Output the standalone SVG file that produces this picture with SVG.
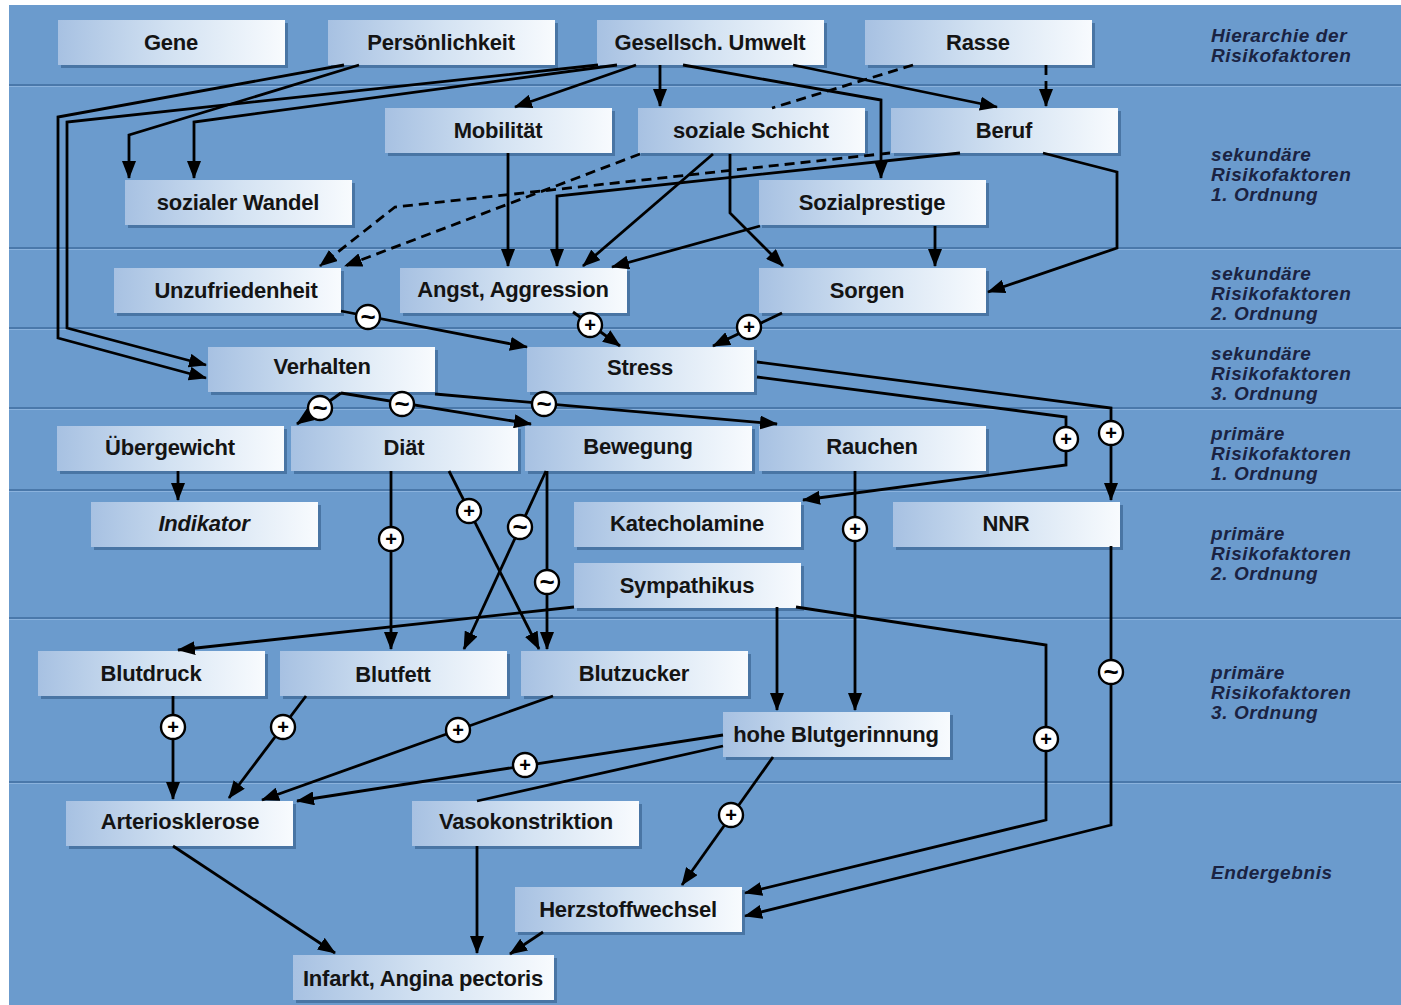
<svg xmlns="http://www.w3.org/2000/svg" width="1401" height="1005" viewBox="0 0 1401 1005">
<defs>
<linearGradient id="g" x1="0" y1="0" x2="1" y2="0">
<stop offset="0" stop-color="#a7c1e2"/>
<stop offset="0.5" stop-color="#d3e2f2"/>
<stop offset="1" stop-color="#f8fbfe"/>
</linearGradient>
<marker id="ah" markerUnits="userSpaceOnUse" markerWidth="18" markerHeight="14" refX="17" refY="7" orient="auto" viewBox="0 0 18 14">
<path d="M0,0 L18,7 L0,14 z" fill="#000"/>
</marker>
<style>
.bg{fill:#6b9bcd}
.bl{fill:#4a78aa}
.bh{fill:#8ab2dd}
.sh{fill:#2d5584;opacity:.55}
.box{fill:url(#g)}
.t{font-family:"Liberation Sans",Arial,sans-serif;font-weight:bold;font-size:22px;fill:#141414;text-anchor:middle;letter-spacing:-0.2px}
.it{font-style:italic}
.side{font-family:"Liberation Sans",Arial,sans-serif;font-weight:bold;font-style:italic;font-size:19px;letter-spacing:0.6px;fill:#1a2342}
.c{fill:none;stroke:#000;stroke-width:2.8;stroke-linejoin:miter}
.a{marker-end:url(#ah)}
.d{stroke-dasharray:10 6}
.lc{fill:#fff;stroke:#000;stroke-width:2.4}
.lt{font-family:"Liberation Sans",Arial,sans-serif;font-weight:bold;font-size:20px;fill:#000;text-anchor:middle}
.lw{font-family:"Liberation Sans",Arial,sans-serif;font-weight:bold;font-size:26px;fill:#000;text-anchor:middle}
</style>
</defs>
<rect x="0" y="0" width="1401" height="1005" fill="#ffffff"/>
<rect class="bg" x="9" y="5" width="1392" height="1000"/>
<g id="bands">
<rect class="bl" x="9" y="84" width="1392" height="2"/><rect class="bh" x="9" y="86" width="1392" height="1"/>
<rect class="bl" x="9" y="247" width="1392" height="2"/><rect class="bh" x="9" y="249" width="1392" height="1"/>
<rect class="bl" x="9" y="327" width="1392" height="2"/><rect class="bh" x="9" y="329" width="1392" height="1"/>
<rect class="bl" x="9" y="407" width="1392" height="2"/><rect class="bh" x="9" y="409" width="1392" height="1"/>
<rect class="bl" x="9" y="489" width="1392" height="2"/><rect class="bh" x="9" y="491" width="1392" height="1"/>
<rect class="bl" x="9" y="617" width="1392" height="2"/><rect class="bh" x="9" y="619" width="1392" height="1"/>
<rect class="bl" x="9" y="781" width="1392" height="2"/><rect class="bh" x="9" y="783" width="1392" height="1"/>
</g>
<g id="side-labels">
<text class="side" x="1211" y="42">Hierarchie der</text>
<text class="side" x="1211" y="62">Risikofaktoren</text>
<text class="side" x="1211" y="161">sekundäre</text>
<text class="side" x="1211" y="181">Risikofaktoren</text>
<text class="side" x="1211" y="201">1. Ordnung</text>
<text class="side" x="1211" y="280">sekundäre</text>
<text class="side" x="1211" y="300">Risikofaktoren</text>
<text class="side" x="1211" y="320">2. Ordnung</text>
<text class="side" x="1211" y="360">sekundäre</text>
<text class="side" x="1211" y="380">Risikofaktoren</text>
<text class="side" x="1211" y="400">3. Ordnung</text>
<text class="side" x="1211" y="440">primäre</text>
<text class="side" x="1211" y="460">Risikofaktoren</text>
<text class="side" x="1211" y="480">1. Ordnung</text>
<text class="side" x="1211" y="540">primäre</text>
<text class="side" x="1211" y="560">Risikofaktoren</text>
<text class="side" x="1211" y="580">2. Ordnung</text>
<text class="side" x="1211" y="679">primäre</text>
<text class="side" x="1211" y="699">Risikofaktoren</text>
<text class="side" x="1211" y="719">3. Ordnung</text>
<text class="side" x="1211" y="879">Endergebnis</text>
</g>
<g id="nodes">
<g id="n-gene"><rect class="sh" x="61" y="23" width="227" height="45"/><rect class="box" x="58" y="20" width="227" height="45"/><text class="t" x="171" y="50">Gene</text></g>
<g id="n-persoenlichkeit"><rect class="sh" x="331" y="23" width="227" height="45"/><rect class="box" x="328" y="20" width="227" height="45"/><text class="t" x="441" y="50">Persönlichkeit</text></g>
<g id="n-umwelt"><rect class="sh" x="600" y="23" width="227" height="45"/><rect class="box" x="597" y="20" width="227" height="45"/><text class="t" x="710" y="50">Gesellsch. Umwelt</text></g>
<g id="n-rasse"><rect class="sh" x="868" y="23" width="227" height="45"/><rect class="box" x="865" y="20" width="227" height="45"/><text class="t" x="978" y="50">Rasse</text></g>
<g id="n-mobilitaet"><rect class="sh" x="388" y="111" width="227" height="45"/><rect class="box" x="385" y="108" width="227" height="45"/><text class="t" x="498" y="138">Mobilität</text></g>
<g id="n-schicht"><rect class="sh" x="641" y="111" width="227" height="45"/><rect class="box" x="638" y="108" width="227" height="45"/><text class="t" x="751" y="138">soziale Schicht</text></g>
<g id="n-beruf"><rect class="sh" x="894" y="111" width="227" height="45"/><rect class="box" x="891" y="108" width="227" height="45"/><text class="t" x="1004" y="138">Beruf</text></g>
<g id="n-wandel"><rect class="sh" x="128" y="183" width="227" height="45"/><rect class="box" x="125" y="180" width="227" height="45"/><text class="t" x="238" y="210">sozialer Wandel</text></g>
<g id="n-prestige"><rect class="sh" x="762" y="183" width="227" height="45"/><rect class="box" x="759" y="180" width="227" height="45"/><text class="t" x="872" y="210">Sozialprestige</text></g>
<g id="n-unzufriedenheit"><rect class="sh" x="117" y="271" width="227" height="45"/><rect class="box" x="114" y="268" width="227" height="45"/><text class="t" x="236" y="298">Unzufriedenheit</text></g>
<g id="n-angst"><rect class="sh" x="403" y="271" width="227" height="45"/><rect class="box" x="400" y="268" width="227" height="45"/><text class="t" x="513" y="297">Angst, Aggression</text></g>
<g id="n-sorgen"><rect class="sh" x="762" y="271" width="227" height="45"/><rect class="box" x="759" y="268" width="227" height="45"/><text class="t" x="867" y="298">Sorgen</text></g>
<g id="n-verhalten"><rect class="sh" x="211" y="350" width="227" height="45"/><rect class="box" x="208" y="347" width="227" height="45"/><text class="t" x="322" y="374">Verhalten</text></g>
<g id="n-stress"><rect class="sh" x="530" y="350" width="227" height="45"/><rect class="box" x="527" y="347" width="227" height="45"/><text class="t" x="640" y="375">Stress</text></g>
<g id="n-uebergewicht"><rect class="sh" x="60" y="429" width="227" height="45"/><rect class="box" x="57" y="426" width="227" height="45"/><text class="t" x="170" y="455">Übergewicht</text></g>
<g id="n-diaet"><rect class="sh" x="294" y="429" width="227" height="45"/><rect class="box" x="291" y="426" width="227" height="45"/><text class="t" x="404" y="455">Diät</text></g>
<g id="n-bewegung"><rect class="sh" x="528" y="429" width="227" height="45"/><rect class="box" x="525" y="426" width="227" height="45"/><text class="t" x="638" y="454">Bewegung</text></g>
<g id="n-rauchen"><rect class="sh" x="762" y="429" width="227" height="45"/><rect class="box" x="759" y="426" width="227" height="45"/><text class="t" x="872" y="454">Rauchen</text></g>
<g id="n-indikator"><rect class="sh" x="94" y="505" width="227" height="45"/><rect class="box" x="91" y="502" width="227" height="45"/><text class="t it" x="204" y="531">Indikator</text></g>
<g id="n-katecholamine"><rect class="sh" x="577" y="505" width="227" height="45"/><rect class="box" x="574" y="502" width="227" height="45"/><text class="t" x="687" y="531">Katecholamine</text></g>
<g id="n-nnr"><rect class="sh" x="896" y="505" width="227" height="45"/><rect class="box" x="893" y="502" width="227" height="45"/><text class="t" x="1006" y="531">NNR</text></g>
<g id="n-sympathikus"><rect class="sh" x="577" y="566" width="227" height="45"/><rect class="box" x="574" y="563" width="227" height="45"/><text class="t" x="687" y="593">Sympathikus</text></g>
<g id="n-blutdruck"><rect class="sh" x="41" y="654" width="227" height="45"/><rect class="box" x="38" y="651" width="227" height="45"/><text class="t" x="151" y="681">Blutdruck</text></g>
<g id="n-blutfett"><rect class="sh" x="283" y="654" width="227" height="45"/><rect class="box" x="280" y="651" width="227" height="45"/><text class="t" x="393" y="682">Blutfett</text></g>
<g id="n-blutzucker"><rect class="sh" x="524" y="654" width="227" height="45"/><rect class="box" x="521" y="651" width="227" height="45"/><text class="t" x="634" y="681">Blutzucker</text></g>
<g id="n-gerinnung"><rect class="sh" x="726" y="715" width="227" height="45"/><rect class="box" x="723" y="712" width="227" height="45"/><text class="t" x="836" y="742">hohe Blutgerinnung</text></g>
<g id="n-arteriosklerose"><rect class="sh" x="69" y="804" width="227" height="45"/><rect class="box" x="66" y="801" width="227" height="45"/><text class="t" x="180" y="829">Arteriosklerose</text></g>
<g id="n-vasokonstriktion"><rect class="sh" x="415" y="804" width="227" height="45"/><rect class="box" x="412" y="801" width="227" height="45"/><text class="t" x="526" y="829">Vasokonstriktion</text></g>
<g id="n-herz"><rect class="sh" x="518" y="890" width="227" height="45"/><rect class="box" x="515" y="887" width="227" height="45"/><text class="t" x="628" y="917">Herzstoffwechsel</text></g>
<g id="n-infarkt"><rect class="sh" x="296" y="958" width="261" height="45"/><rect class="box" x="293" y="955" width="261" height="45"/><text class="t" x="423" y="986">Infarkt, Angina pectoris</text></g>
</g>
<g id="connectors">
<path class="c a" d="M344,65 L58,117 L58,338 L206,378"/>
<path class="c a" d="M598,65 L67,122 L67,328 L206,365"/>
<path class="c a" d="M359,65 L129,135 L129,178"/>
<path class="c a" d="M617,65 L194,122 L194,178"/>
<path class="c a" d="M636,65 L515,107"/>
<path class="c a" d="M660,65 L660,106"/>
<path class="c a" d="M683,65 L881,100 L881,178"/>
<path class="c a" d="M793,65 L997,107"/>
<path class="c a d" d="M1046,65 L1046,106"/>
<path class="c d" d="M913,65 L772,108"/>
<path class="c a" d="M508,153 L508,266"/>
<path class="c a d" d="M640,154 L345,266"/>
<path class="c a d" d="M890,153 L395,207 L320,266"/>
<path class="c a" d="M713,154 L583,266"/>
<path class="c a" d="M730,154 L730,213 L783,266"/>
<path class="c a" d="M960,153 L557,196 L557,266"/>
<path class="c a" d="M1043,153 L1117,172 L1117,248 L988,292"/>
<path class="c a" d="M760,226 L612,267"/>
<path class="c a" d="M935,226 L935,266"/>
<path class="c a" d="M341,311 L527,347"/>
<path class="c a" d="M573,312 L620,346"/>
<path class="c a" d="M782,313 L713,346"/>
<path class="c a" d="M341,393 L297,424"/>
<path class="c a" d="M341,393 L531,424"/>
<path class="c a" d="M435,394 L777,424"/>
<path class="c a" d="M757,362 L1111,408 L1111,500"/>
<path class="c a" d="M757,377 L1066,417 L1066,465 L803,500"/>
<path class="c a" d="M178,471 L178,500"/>
<path class="c a" d="M391,471 L391,649"/>
<path class="c a" d="M449,471 L539,649"/>
<path class="c a" d="M546,471 L464,649"/>
<path class="c a" d="M547,471 L547,649"/>
<path class="c a" d="M855,471 L855,710"/>
<path class="c a" d="M1111,546 L1111,825 L745,916"/>
<path class="c a" d="M574,607 L178,650"/>
<path class="c a" d="M777,607 L777,710"/>
<path class="c a" d="M796,607 L1046,645 L1046,820 L745,893"/>
<path class="c a" d="M173,696 L173,799"/>
<path class="c a" d="M306,696 L229,798"/>
<path class="c a" d="M553,696 L262,800"/>
<path class="c a" d="M723,735 L297,801"/>
<path class="c" d="M723,746 L477,801"/>
<path class="c a" d="M773,757 L682,885"/>
<path class="c a" d="M173,846 L335,953"/>
<path class="c a" d="M477,846 L477,953"/>
<path class="c a" d="M543,932 L510,954"/>
<g id="signs">
<circle class="lc" cx="368" cy="317" r="12"/><text class="lw" x="368" y="326">~</text>
<circle class="lc" cx="590" cy="325" r="12"/><text class="lt" x="590" y="332">+</text>
<circle class="lc" cx="749" cy="327" r="12"/><text class="lt" x="749" y="334">+</text>
<circle class="lc" cx="320" cy="408" r="12"/><text class="lw" x="320" y="417">~</text>
<circle class="lc" cx="402" cy="404" r="12"/><text class="lw" x="402" y="413">~</text>
<circle class="lc" cx="544" cy="404" r="12"/><text class="lw" x="544" y="413">~</text>
<circle class="lc" cx="1111" cy="433" r="12"/><text class="lt" x="1111" y="440">+</text>
<circle class="lc" cx="1066" cy="439" r="12"/><text class="lt" x="1066" y="446">+</text>
<circle class="lc" cx="391" cy="539" r="12"/><text class="lt" x="391" y="546">+</text>
<circle class="lc" cx="469" cy="511" r="12"/><text class="lt" x="469" y="518">+</text>
<circle class="lc" cx="520" cy="527" r="12"/><text class="lw" x="520" y="536">~</text>
<circle class="lc" cx="547" cy="582" r="12"/><text class="lw" x="547" y="591">~</text>
<circle class="lc" cx="855" cy="529" r="12"/><text class="lt" x="855" y="536">+</text>
<circle class="lc" cx="1111" cy="672" r="12"/><text class="lw" x="1111" y="681">~</text>
<circle class="lc" cx="1046" cy="739" r="12"/><text class="lt" x="1046" y="746">+</text>
<circle class="lc" cx="173" cy="727" r="12"/><text class="lt" x="173" y="734">+</text>
<circle class="lc" cx="283" cy="727" r="12"/><text class="lt" x="283" y="734">+</text>
<circle class="lc" cx="458" cy="730" r="12"/><text class="lt" x="458" y="737">+</text>
<circle class="lc" cx="525" cy="765" r="12"/><text class="lt" x="525" y="772">+</text>
<circle class="lc" cx="731" cy="815" r="12"/><text class="lt" x="731" y="822">+</text>
</g>
</g>
</svg>
